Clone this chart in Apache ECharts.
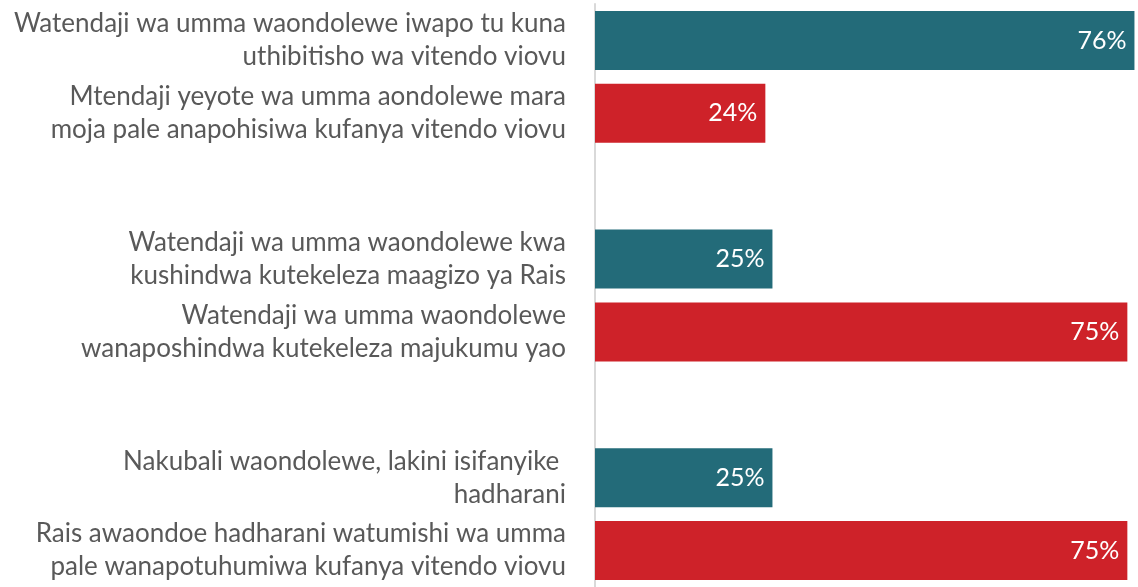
<!DOCTYPE html>
<html>
<head>
<meta charset="utf-8">
<script src="https://cdn.jsdelivr.net/npm/echarts@6/dist/echarts.min.js"></script>
<style>
  * { margin: 0; padding: 0; }
  html, body { background: #fff; }
</style>
</head>
<body>
<div id="main" style="width: 1138px; height: 587px;"></div>
<script>
  // blank entries keep the gap between the three pairs
  var categories = [
    'Watendaji wa umma waondolewe iwapo tu kuna\nuthibitisho wa vitendo viovu',
    'Mtendaji yeyote wa umma aondolewe mara\nmoja pale anapohisiwa kufanya vitendo viovu',
    '',
    'Watendaji wa umma waondolewe kwa\nkushindwa kutekeleza maagizo ya Rais',
    'Watendaji wa umma waondolewe\nwanaposhindwa kutekeleza majukumu yao',
    '',
    'Nakubali waondolewe, lakini isifanyike \nhadharani',
    'Rais awaondoe hadharani watumishi wa umma\npale wanapotuhumiwa kufanya vitendo viovu'
  ]
  var values = [76, 24, null, 25, 75, null, 25, 75]
  var barColors = ['#236b79', '#ce2229', null, '#236b79', '#ce2229', null, '#236b79', '#ce2229']

  var chart = echarts.init(document.getElementById('main'))

  var seriesData = values.map(function (v, i) {
    return { value: v, itemStyle: { color: barColors[i] } }
  })

  chart.setOption({
    animation: false,
    grid: { left: 595, right: 0, top: 4, bottom: -4 },
    xAxis: {
      type: 'value',
      min: 0,
      max: 76.5,
      show: false
    },
    yAxis: {
      type: 'category',
      inverse: true,
      data: categories,
      axisTick: { show: false },
      axisLine: { show: true, lineStyle: { color: '#d9d9d9', width: 2 } },
      axisLabel: {
        margin: 29,
        fontFamily: 'Lato',
        fontSize: 26,
        lineHeight: 33,
        color: '#595959'
      }
    },
    series: [{
      type: 'bar',
      barWidth: 59,
      data: seriesData,
      label: {
        show: true,
        position: 'insideRight',
        distance: 8,
        fontFamily: 'Lato',
        fontSize: 25,
        color: '#fff',
        formatter: function (p) { return p.value == null ? '' : p.value + '%' }
      }
    }]
  })
</script>
</body>
</html>
